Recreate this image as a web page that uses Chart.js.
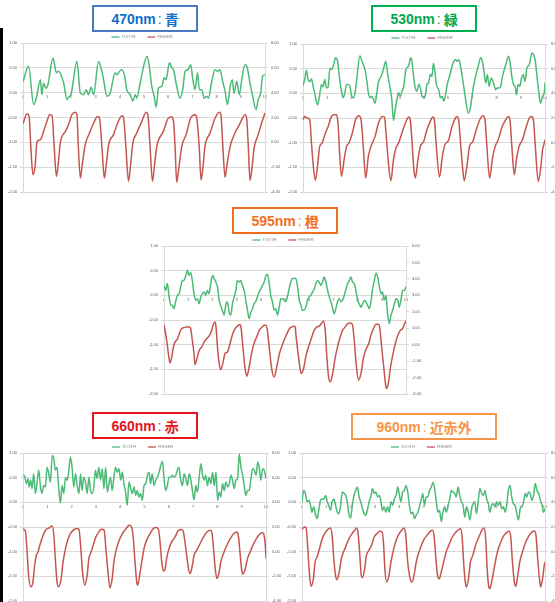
<!DOCTYPE html>
<html>
<head>
<meta charset="utf-8">
<script src="https://cdn.jsdelivr.net/npm/chart.js@4/dist/chart.umd.min.js"></script>
<style>
html, body { margin: 0; padding: 0; width: 555px; height: 602px; overflow: hidden; background: #fff; position: relative; }
.edge { position: absolute; left: 0; top: 28px; width: 3px; height: 574px; background: #000; }
.tag { position: absolute; box-sizing: border-box; border: 2px solid; background: #fff; display: flex; align-items: center; justify-content: center; font: bold 14px "Liberation Sans", "Noto Sans CJK JP", sans-serif; white-space: nowrap; }
.tag .sep { font-weight: normal; margin: 0 3px 0 2px; }
canvas { position: absolute; }
</style>
</head>
<body>
<div class="edge"></div>

<canvas id="c470" width="280" height="170" style="left:3px;top:30px"></canvas>
<canvas id="c530" width="280" height="170" style="left:283px;top:31px"></canvas>
<canvas id="c595" width="282" height="170" style="left:144px;top:233px"></canvas>
<canvas id="c660" width="280" height="170" style="left:3px;top:440px"></canvas>
<canvas id="c960" width="280" height="170" style="left:282px;top:440px"></canvas>

<div class="tag" style="left:92px;top:5px;width:106px;height:27px;border-color:#4A7BBF;color:#0F6FC6">470nm<span class="sep">:</span>青</div>
<div class="tag" style="left:371px;top:5px;width:106px;height:27px;border-color:#00B050;color:#00A84F">530nm<span class="sep">:</span>緑</div>
<div class="tag" style="left:232px;top:207px;width:106px;height:27px;border-color:#F26D21;color:#F26D21">595nm<span class="sep">:</span>橙</div>
<div class="tag" style="left:92px;top:412px;width:106px;height:27px;border-color:#E3161D;color:#E3161D">660nm<span class="sep">:</span>赤</div>
<div class="tag" style="left:351px;top:413px;width:146px;height:27px;border-color:#F79646;color:#F79646">960nm<span class="sep">:</span>近赤外</div>

<script>
// Time (s) and signal values for each wavelength.
// TOOTH is plotted on the left axis, FINGER on the right axis.

const tooth470T = [0,0.23,0.44,0.55,0.72,0.78,0.85,0.95,1.03,1.24,1.38,1.47,1.57,1.68,1.82,1.88,1.98,2.23,2.37,2.50,2.61,2.71,2.81,2.92,3.12,3.26,3.33,3.47,3.60,3.81,3.88,3.99,4.09,4.20,4.29,4.43,4.54,4.64,4.70,4.84,4.91,5.12,5.19,5.32,5.42,5.50,5.60,5.74,5.83,5.91,6.05,6.15,6.22,6.35,6.49,6.60,6.70,6.81,6.93,7.02,7.11,7.21,7.29,7.39,7.48,7.59,7.66,7.80,7.94,8.03,8.14,8.25,8.35,8.45,8.56,8.65,8.72,8.83,8.94,9.04,9.17,9.27,9.38,9.49,9.63,9.72,9.82,9.90,10.0];
const tooth470 = [0.22,0.53,-0.24,-0.11,0.26,-0.04,0.19,0.09,0.16,0.70,0.40,0.43,0.36,0.19,-0.14,-0.09,-0.04,0.63,-0.01,-0.04,0.06,-0.04,0.11,-0.04,0.63,0.43,0.26,-0.07,-0.01,0.40,0.36,0.43,0.46,0.33,0.06,-0.04,-0.17,-0.04,-0.11,0.19,0.36,0.73,0.63,0.13,-0.07,-0.29,0.09,0.13,0.30,0.26,0.60,0.50,0.46,0.13,-0.11,0.06,0.43,0.46,0.56,0.26,0.06,0.40,0.06,0.06,-0.11,-0.07,-0.11,0.23,0.46,0.43,0.46,0.23,0.03,-0.24,0.13,0.26,-0.01,0.23,-0.04,0.26,0.56,0.50,0.19,-0.07,-0.34,-0.14,-0.01,0.33,0.36];
const finger470T = [0,0.17,0.25,0.33,0.41,0.50,0.58,0.72,0.85,0.99,1.10,1.20,1.28,1.38,1.46,1.54,1.75,1.88,2.02,2.16,2.23,2.28,2.37,2.45,2.57,2.75,2.92,3.08,3.16,3.26,3.36,3.44,3.54,3.74,3.91,4.09,4.15,4.25,4.36,4.44,4.54,4.70,4.91,5.09,5.16,5.25,5.35,5.43,5.53,5.80,6.01,6.15,6.22,6.29,6.35,6.44,6.56,6.74,6.93,7.11,7.18,7.28,7.36,7.44,7.52,7.73,7.94,8.12,8.18,8.25,8.35,8.43,8.56,8.76,8.94,9.17,9.24,9.31,9.38,9.47,9.55,9.72,9.86,10.0];
const finger470 = [1.50,2.31,2.09,-0.59,-2.61,-1.93,0.08,0.21,0.88,1.69,2.23,2.15,-0.06,-2.74,-1.67,-0.06,0.88,1.42,2.23,2.42,2.23,-0.06,-2.87,-1.80,-0.19,0.75,1.56,2.09,1.96,-0.32,-2.87,-1.80,-0.19,0.62,1.56,2.15,2.04,-0.32,-3.14,-1.93,-0.06,0.75,1.69,2.42,2.23,-0.32,-3.14,-1.93,-0.32,0.88,1.96,2.04,1.69,-0.59,-3.22,-2.07,-0.32,0.62,1.96,2.23,1.96,-0.32,-3.06,-1.93,-0.32,0.75,1.96,2.42,2.23,-0.06,-2.82,-1.80,-0.32,0.75,1.42,2.23,1.96,-0.32,-3.06,-1.93,-0.46,0.62,1.56,2.36];

const tooth530T = [0,0.07,0.14,0.21,0.28,0.35,0.42,0.48,0.60,0.69,0.76,0.83,0.90,0.97,1.04,1.11,1.18,1.27,1.34,1.43,1.50,1.59,1.66,1.73,1.80,1.87,1.94,2.01,2.08,2.15,2.22,2.35,2.42,2.49,2.56,2.63,2.70,2.77,2.84,2.91,2.98,3.05,3.12,3.19,3.28,3.37,3.42,3.50,3.60,3.67,3.74,3.81,3.88,3.95,4.02,4.09,4.16,4.25,4.36,4.45,4.50,4.57,4.64,4.71,4.78,4.85,4.92,4.99,5.06,5.12,5.19,5.26,5.33,5.39,5.44,5.51,5.61,5.68,5.75,5.82,5.89,5.96,6.05,6.16,6.23,6.30,6.37,6.44,6.51,6.58,6.65,6.72,6.83,6.93,6.99,7.06,7.13,7.24,7.34,7.41,7.48,7.55,7.62,7.69,7.78,7.89,7.96,8.03,8.10,8.17,8.24,8.38,8.49,8.56,8.63,8.70,8.77,8.82,8.89,8.96,9.03,9.10,9.18,9.25,9.35,9.46,9.53,9.60,9.67,9.74,9.81,9.90,9.97,10.0];
const tooth530 = [0.16,0.28,0.47,0.28,0.24,0.29,0.14,0.01,-0.23,-0.03,0.18,0.13,0.28,0.11,0.13,0.51,0.48,0.58,0.72,0.65,0.34,0.04,-0.09,0.01,0.18,0.18,0.14,-0.06,-0.09,0.01,0.28,0.76,0.68,0.58,0.48,0.28,0.01,-0.09,-0.06,-0.13,-0.20,0.01,0.24,0.31,0.41,0.58,0.65,0.38,0.11,-0.13,-0.55,-0.33,-0.13,0.01,-0.06,0.04,0.14,0.48,0.55,0.72,0.65,0.34,0.11,0.04,0.18,0.11,-0.06,-0.09,-0.03,0.18,0.21,0.38,0.34,0.61,0.48,0.18,0.07,-0.09,-0.06,-0.16,-0.03,0.18,0.34,0.55,0.65,0.68,0.65,0.68,0.55,0.34,0.11,-0.13,-0.40,-0.26,-0.03,0.18,0.34,0.55,0.72,0.65,0.45,0.21,0.38,0.14,0.31,0.18,0.07,0.11,0.11,0.14,0.34,0.58,0.75,0.61,0.34,0.18,0.14,-0.03,0.18,0.14,0.31,0.38,0.24,0.51,0.58,0.82,0.78,0.65,0.34,0.04,-0.20,-0.06,0.01,0.22];
const finger530T = [0,0.07,0.18,0.28,0.35,0.42,0.51,0.60,0.69,0.79,0.90,1.04,1.18,1.27,1.39,1.45,1.52,1.59,1.70,1.80,1.90,2.04,2.17,2.31,2.40,2.49,2.59,2.70,2.81,2.98,3.12,3.28,3.37,3.42,3.53,3.63,3.74,3.84,3.95,4.11,4.29,4.36,4.43,4.50,4.57,4.64,4.75,4.85,4.99,5.12,5.26,5.36,5.43,5.50,5.64,5.75,5.84,6.02,6.16,6.30,6.37,6.44,6.51,6.61,6.66,6.79,6.88,7.02,7.16,7.34,7.44,7.52,7.59,7.71,7.83,7.94,8.07,8.21,8.38,8.49,8.56,8.63,8.73,8.82,8.93,9.07,9.21,9.35,9.45,9.52,9.60,9.72,9.83,9.90,9.97,10.0];
const finger530 = [1.86,2.13,2.00,1.86,-0.03,-1.78,-3.05,-1.92,-0.30,-0.03,0.65,1.32,2.13,2.27,2.27,1.46,-1.11,-2.73,-1.38,-0.30,-0.03,0.78,1.86,2.19,1.86,-0.30,-2.87,-1.11,-0.30,0.51,1.59,2.13,2.08,1.05,-1.65,-3.08,-1.38,-0.43,-0.03,0.92,1.86,2.08,1.86,0.24,-1.92,-2.87,-1.38,-0.30,0.11,1.05,1.73,2.08,1.86,-0.03,-2.78,-1.25,-0.30,0.24,1.32,2.00,2.13,1.73,-0.03,-2.33,-3.08,-1.65,-0.30,0.11,1.05,2.00,2.19,1.86,-0.03,-2.87,-1.25,-0.30,0.24,1.19,1.86,2.13,1.73,-0.30,-2.60,-1.38,-0.30,0.24,1.19,2.00,2.13,1.86,-0.30,-3.14,-1.92,-0.57,-0.03,0.24];

const tooth595T = [0,0.07,0.14,0.21,0.28,0.34,0.41,0.48,0.55,0.62,0.69,0.76,0.83,0.90,0.97,1.03,1.10,1.17,1.24,1.31,1.38,1.45,1.52,1.59,1.66,1.72,1.79,1.86,1.93,2.01,2.07,2.14,2.21,2.28,2.34,2.41,2.48,2.55,2.62,2.69,2.76,2.83,2.90,2.97,3.03,3.12,3.17,3.24,3.31,3.38,3.45,3.52,3.59,3.66,3.72,3.79,3.86,3.93,4.00,4.07,4.14,4.21,4.28,4.34,4.41,4.48,4.55,4.62,4.69,4.76,4.83,4.90,4.97,5.03,5.10,5.17,5.24,5.31,5.38,5.45,5.52,5.59,5.66,5.72,5.79,5.86,5.93,6.00,6.07,6.14,6.21,6.28,6.34,6.41,6.48,6.55,6.62,6.69,6.76,6.83,6.90,6.97,7.03,7.10,7.17,7.24,7.31,7.38,7.45,7.52,7.59,7.66,7.72,7.79,7.86,7.93,8.00,8.07,8.14,8.21,8.28,8.34,8.41,8.48,8.55,8.62,8.69,8.76,8.83,8.90,8.97,9.03,9.10,9.17,9.24,9.31,9.38,9.45,9.52,9.59,9.66,9.72,9.79,9.86,9.93,10.0];
const tooth595 = [0.20,0.10,0.24,-0.03,-0.20,-0.20,-0.27,-0.13,0.00,0.03,0.17,0.30,0.30,0.40,0.51,0.40,0.47,0.30,0.03,-0.10,-0.07,-0.17,-0.03,0.03,0.07,0.00,0.10,0.03,0.24,0.40,0.34,0.27,0.17,-0.10,-0.20,-0.30,-0.40,-0.20,-0.13,-0.34,-0.40,-0.17,-0.03,0.10,0.30,0.27,0.30,0.20,0.10,-0.10,-0.30,-0.47,-0.34,-0.27,-0.17,-0.13,-0.03,0.07,0.13,0.20,0.27,0.40,0.42,0.27,0.00,-0.13,-0.30,-0.27,-0.40,-0.24,-0.07,-0.07,-0.10,-0.13,-0.03,0.13,0.27,0.34,0.34,0.34,0.17,-0.10,-0.20,-0.30,-0.30,-0.24,-0.10,-0.03,0.00,0.07,0.13,0.24,0.30,0.27,0.20,0.27,0.37,0.27,0.10,-0.03,-0.13,-0.27,-0.37,-0.27,-0.13,-0.07,-0.13,-0.10,0.00,0.13,0.24,0.30,0.37,0.27,0.24,0.10,-0.10,-0.17,-0.24,-0.17,-0.10,-0.13,-0.20,-0.27,-0.13,0.13,0.30,0.45,0.37,0.17,0.03,0.07,-0.10,0.00,-0.37,-0.57,-0.40,-0.30,-0.17,-0.07,-0.10,-0.24,-0.10,0.10,0.10,0.18];
const finger595T = [0,0.11,0.18,0.25,0.32,0.39,0.46,0.52,0.59,0.66,0.73,0.83,0.94,1.05,1.10,1.17,1.24,1.28,1.38,1.46,1.56,1.66,1.77,1.88,1.97,2.04,2.11,2.15,2.21,2.28,2.34,2.43,2.52,2.62,2.73,2.84,2.94,3.03,3.14,3.19,3.26,3.35,3.42,3.52,3.63,3.72,3.83,3.94,4.06,4.15,4.22,4.28,4.36,4.46,4.55,4.66,4.77,4.91,5.05,5.19,5.28,5.38,5.42,5.46,5.56,5.67,5.77,5.86,5.97,6.11,6.21,6.32,6.41,6.52,6.59,6.66,6.73,6.80,6.87,6.97,7.08,7.17,7.28,7.38,7.49,7.59,7.70,7.78,7.86,7.94,8.04,8.14,8.25,8.36,8.46,8.55,8.66,8.76,8.86,8.91,8.98,9.08,9.17,9.21,9.28,9.35,9.45,9.56,9.66,9.77,9.86,9.94,10.0];
const finger595 = [1.24,0.27,-0.54,-1.11,-0.74,-0.14,0.17,0.27,0.47,0.78,0.98,1.04,1.08,1.08,0.98,0.27,-0.54,-1.21,-0.74,-0.34,-0.14,0.17,0.37,0.57,0.88,1.24,1.38,1.08,-0.14,-1.15,-1.51,-1.15,-0.54,-0.44,0.07,0.67,0.98,1.12,1.22,0.98,-0.14,-1.45,-1.92,-1.35,-0.44,0.07,0.47,0.88,1.08,1.18,1.18,0.78,-0.34,-1.55,-1.96,-1.35,-0.54,0.07,0.57,0.98,1.08,1.12,1.08,0.47,-0.74,-1.75,-1.45,-0.74,-0.14,0.47,0.88,1.08,1.12,1.32,1.44,0.88,-0.74,-1.96,-2.26,-1.75,-0.74,-0.14,0.47,0.88,1.08,1.28,1.32,1.24,0.27,-1.15,-2.16,-1.75,-0.74,-0.24,0.07,0.57,0.98,1.24,1.24,1.08,0.07,-1.35,-2.56,-2.66,-2.26,-1.45,-0.64,0.07,0.57,0.88,0.98,1.28,1.44];

const tooth660T = [0,0.07,0.14,0.21,0.25,0.32,0.37,0.44,0.51,0.58,0.65,0.72,0.78,0.85,0.92,0.99,1.06,1.13,1.20,1.27,1.33,1.40,1.47,1.54,1.61,1.68,1.75,1.82,1.88,1.95,2.02,2.09,2.16,2.23,2.30,2.37,2.43,2.50,2.57,2.64,2.71,2.78,2.85,2.92,2.98,3.05,3.12,3.19,3.26,3.33,3.40,3.47,3.54,3.60,3.67,3.74,3.81,3.88,3.95,4.02,4.09,4.15,4.22,4.29,4.36,4.43,4.50,4.57,4.64,4.70,4.77,4.84,4.91,4.98,5.05,5.12,5.19,5.25,5.32,5.39,5.46,5.53,5.60,5.67,5.74,5.80,5.87,5.94,6.01,6.08,6.15,6.22,6.29,6.35,6.42,6.49,6.56,6.63,6.70,6.77,6.84,6.91,6.97,7.04,7.11,7.18,7.25,7.32,7.39,7.46,7.52,7.59,7.66,7.73,7.80,7.87,7.94,8.01,8.07,8.14,8.21,8.28,8.35,8.42,8.49,8.56,8.62,8.69,8.76,8.83,8.90,8.97,9.04,9.11,9.17,9.24,9.31,9.38,9.45,9.52,9.59,9.66,9.72,9.79,9.86,9.93,10.0];
const tooth660 = [0.55,0.53,0.38,0.48,0.31,0.45,0.28,0.58,0.18,0.41,0.65,0.31,0.18,0.34,0.31,0.71,0.58,0.41,0.95,0.88,0.65,0.71,0.28,-0.01,0.34,0.18,0.51,0.45,0.61,0.92,0.71,0.31,0.58,0.34,0.18,0.58,0.24,0.51,0.41,0.18,0.51,0.24,0.18,0.34,0.65,0.48,0.71,0.45,0.68,0.28,0.71,0.21,0.38,0.51,0.24,0.51,0.71,0.61,0.68,0.45,0.61,0.38,0.21,-0.06,0.41,0.28,0.18,0.31,0.14,0.24,0.11,0.18,0.04,0.34,0.38,0.55,0.61,0.38,0.58,0.34,0.45,0.51,0.61,0.75,0.83,0.51,0.24,0.34,0.51,0.51,0.55,0.51,0.55,0.65,0.71,0.45,0.34,0.58,0.48,0.34,0.58,0.45,0.24,0.05,0.34,0.21,0.51,0.78,0.55,0.45,0.55,0.34,0.51,0.38,0.61,0.34,0.61,0.04,0.21,0.11,0.38,0.24,0.41,0.31,0.38,0.55,0.45,0.28,0.45,0.48,0.98,0.71,0.55,0.31,0.14,0.24,0.24,0.48,0.68,0.65,0.55,0.82,0.71,0.45,0.68,0.65,0.48];
const finger660T = [0,0.10,0.17,0.23,0.32,0.41,0.48,0.55,0.62,0.69,0.76,0.83,0.89,0.96,1.07,1.20,1.27,1.33,1.40,1.47,1.57,1.65,1.75,1.86,1.95,2.06,2.20,2.30,2.37,2.45,2.54,2.64,2.71,2.78,2.89,3.00,3.12,3.23,3.34,3.41,3.51,3.58,3.67,3.74,3.85,3.96,4.09,4.24,4.37,4.47,4.54,4.61,4.68,4.72,4.81,4.91,4.98,5.09,5.23,5.36,5.47,5.57,5.64,5.71,5.78,5.85,5.91,6.01,6.12,6.26,6.40,6.53,6.60,6.70,6.81,6.88,6.97,7.04,7.15,7.29,7.43,7.57,7.70,7.77,7.84,7.91,7.98,8.06,8.14,8.25,8.39,8.53,8.67,8.80,8.87,8.94,9.01,9.05,9.15,9.24,9.35,9.46,9.57,9.70,9.83,9.90,9.97,10.0];
const finger660 = [1.82,1.65,-0.02,-1.91,-2.85,-2.45,-1.10,-0.29,-0.02,0.52,0.93,1.33,1.60,1.82,1.92,2.09,1.33,-0.56,-2.45,-2.85,-2.18,-0.83,0.25,1.06,1.46,1.73,1.87,1.82,0.52,-1.64,-2.72,-1.91,-0.56,-0.15,0.52,1.20,1.60,1.82,1.73,0.25,-1.91,-2.93,-2.18,-0.83,0.25,0.93,1.46,1.87,2.14,2.00,1.06,-0.83,-2.45,-2.72,-1.77,-0.56,0.25,0.93,1.46,1.87,1.95,1.82,0.79,-0.83,-1.58,-1.37,-0.56,0.25,0.79,1.20,1.73,1.79,1.60,0.25,-1.37,-1.77,-1.10,-0.29,0.12,0.66,1.20,1.60,1.73,1.60,0.25,-1.37,-2.18,-1.77,-0.83,-0.15,0.52,1.06,1.46,1.60,1.20,-0.29,-1.64,-1.83,-1.37,-0.56,-0.02,0.52,0.93,1.33,1.55,1.46,0.52,-0.56];

const tooth960T = [0,0.07,0.14,0.21,0.28,0.35,0.41,0.48,0.55,0.62,0.69,0.76,0.83,0.90,0.97,1.04,1.10,1.17,1.24,1.31,1.38,1.45,1.52,1.59,1.66,1.73,1.80,1.86,1.93,2.00,2.07,2.14,2.21,2.28,2.35,2.42,2.49,2.56,2.62,2.69,2.76,2.83,2.90,2.97,3.04,3.11,3.18,3.25,3.31,3.38,3.45,3.52,3.59,3.66,3.73,3.80,3.87,3.94,4.01,4.07,4.14,4.21,4.28,4.35,4.42,4.49,4.56,4.63,4.70,4.77,4.83,4.90,4.97,5.04,5.11,5.18,5.25,5.32,5.39,5.46,5.52,5.59,5.66,5.73,5.80,5.87,5.94,6.01,6.08,6.15,6.22,6.28,6.35,6.42,6.49,6.56,6.63,6.70,6.77,6.84,6.91,6.98,7.04,7.11,7.18,7.25,7.32,7.39,7.46,7.53,7.60,7.67,7.73,7.80,7.87,7.94,8.01,8.08,8.15,8.22,8.29,8.36,8.43,8.49,8.56,8.63,8.70,8.77,8.84,8.91,8.98,9.05,9.12,9.19,9.25,9.32,9.39,9.46,9.53,9.60,9.67,9.74,9.81,9.88,9.94,10.0];
const tooth960 = [0.01,0.24,0.18,0.01,0.04,-0.06,-0.20,-0.09,-0.23,-0.33,-0.16,0.04,0.07,0.07,0.14,0.01,-0.06,-0.16,0.01,0.07,-0.06,-0.20,-0.23,-0.06,0.21,0.18,0.14,0.01,-0.23,-0.32,-0.06,0.14,0.24,0.31,0.11,0.01,-0.13,-0.23,-0.26,-0.16,0.01,0.11,0.28,0.18,0.21,0.11,0.14,0.01,-0.16,-0.09,-0.20,-0.09,-0.20,0.01,-0.06,0.07,0.14,0.31,0.14,0.01,0.21,0.24,0.34,0.21,-0.06,-0.23,-0.20,-0.33,-0.26,-0.20,-0.09,0.04,0.18,-0.06,0.11,0.11,0.24,0.31,0.40,0.28,0.04,-0.20,-0.16,-0.39,-0.20,-0.09,-0.20,-0.06,0.07,0.24,0.21,0.18,0.11,0.31,0.14,0.01,-0.06,-0.30,-0.09,-0.20,-0.36,-0.13,-0.03,0.01,-0.23,0.01,0.28,0.18,0.14,0.24,0.07,-0.03,-0.20,-0.06,-0.03,-0.09,0.01,-0.06,0.01,-0.13,-0.09,-0.20,-0.03,0.24,0.34,0.11,-0.03,-0.06,-0.23,-0.36,-0.13,-0.09,0.01,0.18,0.11,0.21,0.18,0.04,0.14,0.38,0.24,0.18,0.04,-0.06,-0.20,-0.13];
const finger960T = [0,0.10,0.17,0.23,0.30,0.37,0.47,0.54,0.62,0.72,0.81,0.93,1.06,1.17,1.24,1.31,1.38,1.44,1.52,1.62,1.71,1.82,1.93,2.06,2.17,2.25,2.31,2.38,2.44,2.49,2.58,2.65,2.75,2.86,2.97,3.09,3.20,3.30,3.36,3.41,3.48,3.58,3.66,3.76,3.85,3.96,4.10,4.20,4.27,4.35,4.45,4.52,4.61,4.70,4.79,4.89,5.00,5.14,5.28,5.37,5.44,5.51,5.59,5.65,5.73,5.83,5.93,6.04,6.15,6.28,6.41,6.52,6.59,6.66,6.73,6.77,6.86,6.93,7.03,7.14,7.28,7.42,7.49,7.56,7.62,7.69,7.73,7.83,7.93,8.04,8.18,8.31,8.45,8.52,8.59,8.66,8.74,8.80,8.88,8.96,9.07,9.21,9.35,9.46,9.56,9.63,9.70,9.77,9.82,9.90,9.97,10.0];
const finger960 = [1.81,2.00,1.92,0.51,-1.65,-2.81,-2.19,-0.84,-0.43,0.24,0.92,1.46,1.81,1.92,1.32,-0.57,-1.92,-2.27,-1.78,-0.57,-0.03,0.51,1.05,1.46,1.73,1.92,1.46,-0.30,-1.92,-2.11,-1.38,-0.30,0.11,0.51,1.19,1.46,1.65,1.59,0.51,-1.38,-2.46,-1.92,-0.84,0.11,0.78,1.32,1.73,1.92,1.32,-0.84,-2.19,-2.46,-1.92,-0.84,-0.16,0.38,0.92,1.32,1.65,1.73,1.19,-0.57,-2.05,-2.19,-1.65,-0.84,-0.03,0.51,1.05,1.46,1.73,1.86,1.19,-1.11,-2.60,-2.87,-2.05,-0.84,-0.30,0.51,1.19,1.81,1.92,1.05,-1.38,-2.87,-3.00,-2.19,-1.11,-0.03,0.78,1.32,1.59,1.68,1.19,-0.84,-2.46,-2.81,-1.92,-0.84,-0.03,0.78,1.32,1.59,1.68,1.32,-0.57,-2.19,-2.87,-2.19,-1.11,-0.84];

// Axis ranges (left axis shared by all panels, right axis per panel)
const leftAxis = { min: -2, max: 1, step: 0.5 };
const rightAxisWide = { min: -4, max: 8, step: 2 };
const rightAxis595 = { min: -3, max: 6, step: 1 };
const timeAxis = { min: 0, max: 10, step: 1 };
const seriesNames = ['TOOTH', 'FINGER'];

const GREEN = '#4CBB78';
const RED = '#C4554F';
const GRID = '#D9D9D9';
const TICK = '#595959';
const tickFont = { family: 'Liberation Sans', size: 4 };

function pairs(ts, vs) {
  return ts.map((t, i) => ({ x: t, y: vs[i] }));
}

// Small line-sample legend centred above the plot area
const lineLegend = {
  id: 'lineLegend',
  afterDraw(chart) {
    const { ctx, chartArea } = chart;
    const y = chartArea.top - 6;
    ctx.save();
    ctx.font = '4px "Liberation Sans"';
    ctx.textBaseline = 'middle';
    const sample = 8, gapIn = 2, gapOut = 12;
    const items = chart.data.datasets.map(ds => ({ ds, w: sample + gapIn + ctx.measureText(ds.label).width }));
    const total = items.reduce((s, it) => s + it.w, 0) + gapOut * (items.length - 1);
    let x = (chartArea.left + chartArea.right) / 2 - total / 2 - 2;
    items.forEach(({ ds, w }) => {
      ctx.strokeStyle = ds.borderColor;
      ctx.lineWidth = 1.3;
      ctx.beginPath();
      ctx.moveTo(x, y);
      ctx.lineTo(x + sample, y);
      ctx.stroke();
      ctx.fillStyle = '#7F7F7F';
      ctx.fillText(ds.label, x + sample + gapIn, y);
      x += w + gapOut;
    });
    ctx.restore();
  }
};

function makePanel(id, tT, tV, fT, fV, right, geo) {
  new Chart(document.getElementById(id), {
    type: 'line',
    data: {
      datasets: [
        { label: seriesNames[0], data: pairs(tT, tV), yAxisID: 'y', borderColor: GREEN, backgroundColor: GREEN },
        { label: seriesNames[1], data: pairs(fT, fV), yAxisID: 'y1', borderColor: RED, backgroundColor: RED }
      ]
    },
    options: {
      responsive: false,
      animation: false,
      devicePixelRatio: 1,
      layout: { padding: { top: geo.top, bottom: geo.bottom, left: 0, right: 0 } },
      elements: {
        point: { radius: 0 },
        line: { borderWidth: 1.5, cubicInterpolationMode: 'monotone' }
      },
      plugins: { legend: { display: false }, tooltip: { enabled: false } },
      scales: {
        x: {
          type: 'linear',
          min: timeAxis.min, max: timeAxis.max,
          position: { y: 0 },
          ticks: { stepSize: timeAxis.step, font: tickFont, color: TICK, padding: 2, maxRotation: 0 },
          grid: { display: false, drawTicks: false },
          border: { display: false }
        },
        y: {
          position: 'left',
          min: leftAxis.min, max: leftAxis.max,
          ticks: { stepSize: leftAxis.step, font: tickFont, color: TICK, padding: 3, callback: v => v.toFixed(2) },
          grid: { color: GRID, lineWidth: 1, tickLength: 3 },
          border: { color: GRID },
          afterFit(s) { s.width = geo.leftW; }
        },
        y1: {
          position: 'right',
          min: right.min, max: right.max,
          ticks: { stepSize: right.step, font: tickFont, color: TICK, padding: 3, callback: v => v.toFixed(2) },
          grid: { drawOnChartArea: false, color: GRID, tickLength: 3 },
          border: { color: GRID },
          afterFit(s) { s.width = geo.rightW; }
        }
      }
    },
    plugins: [lineLegend]
  });
}

makePanel('c470', tooth470T, tooth470, finger470T, finger470, rightAxisWide, { top: 13, bottom: 8, leftW: 20, rightW: 18 });
makePanel('c530', tooth530T, tooth530, finger530T, finger530, rightAxisWide, { top: 13, bottom: 9, leftW: 20, rightW: 18 });
makePanel('c595', tooth595T, tooth595, finger595T, finger595, rightAxis595, { top: 13, bottom: 9, leftW: 20, rightW: 20 });
makePanel('c660', tooth660T, tooth660, finger660T, finger660, rightAxisWide, { top: 13, bottom: 9, leftW: 20, rightW: 17 });
makePanel('c960', tooth960T, tooth960, finger960T, finger960, rightAxisWide, { top: 13, bottom: 9, leftW: 20, rightW: 17 });
</script>
</body>
</html>
